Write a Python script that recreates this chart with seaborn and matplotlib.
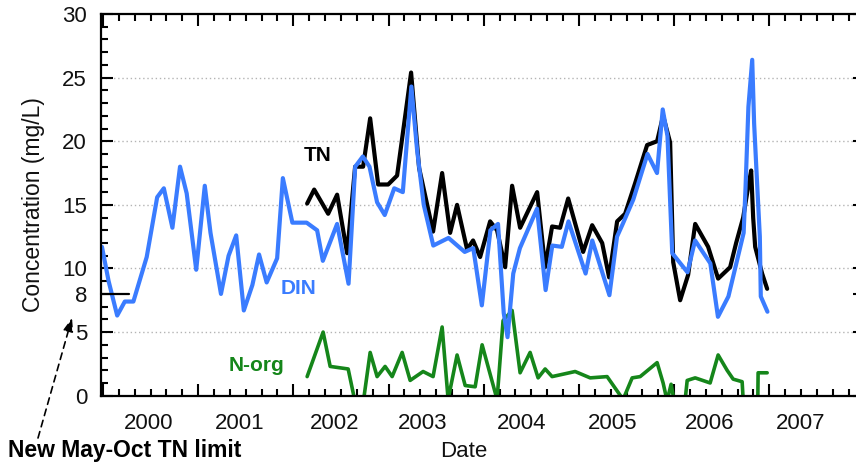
import matplotlib
matplotlib.use("Agg")
import matplotlib.pyplot as plt
from matplotlib.ticker import MultipleLocator, FixedLocator, NullFormatter
import pandas as pd
import seaborn as sns

# Sampling dates (decimal years) and concentrations in mg/L
din_year = [1999.99, 2000.06, 2000.15, 2000.23, 2000.32, 2000.46, 2000.57, 2000.64, 2000.73,
            2000.81, 2000.88, 2000.98, 2001.07, 2001.13, 2001.24, 2001.32, 2001.40, 2001.48,
            2001.57, 2001.64, 2001.72, 2001.83, 2001.89, 2001.99, 2002.14, 2002.25, 2002.31,
            2002.46, 2002.58, 2002.65, 2002.73, 2002.80, 2002.88, 2002.96, 2003.06, 2003.15,
            2003.24, 2003.30, 2003.37, 2003.47, 2003.63, 2003.80, 2003.89, 2003.98, 2004.07,
            2004.15, 2004.21, 2004.25, 2004.31, 2004.38, 2004.56, 2004.65, 2004.72, 2004.82,
            2004.89, 2005.07, 2005.14, 2005.32, 2005.40, 2005.46, 2005.57, 2005.72, 2005.82,
            2005.88, 2005.93, 2005.98, 2006.14, 2006.22, 2006.38, 2006.46, 2006.57, 2006.73,
            2006.75, 2006.78, 2006.82, 2006.84, 2006.87, 2006.90, 2006.91, 2006.98]
din_mgL = [11.7, 9.0, 6.3, 7.4, 7.4, 10.9, 15.6, 16.3, 13.2,
           18.0, 15.9, 9.9, 16.5, 12.8, 8.0, 11.0, 12.6, 6.7,
           8.7, 11.1, 8.9, 10.8, 17.1, 13.6, 13.6, 13.0, 10.6,
           13.5, 8.8, 18.0, 18.8, 18.0, 15.2, 14.2, 16.3, 16.0,
           24.3, 19.3, 15.0, 11.8, 12.4, 11.3, 11.6, 7.1, 13.0,
           13.5, 6.5, 4.6, 9.6, 11.6, 14.7, 8.3, 11.8, 11.7,
           13.7, 9.6, 12.2, 7.9, 12.5, 13.5, 15.4, 19.0, 17.5,
           22.5, 20.4, 11.2, 9.7, 12.2, 10.4, 6.2, 7.8, 12.8,
           16.4, 22.7, 26.4, 21.4, 16.9, 12.5, 7.8, 6.6]

tn_year = [2002.145, 2002.219, 2002.366, 2002.460, 2002.565, 2002.649, 2002.733, 2002.807,
           2002.891, 2002.996, 2003.090, 2003.237, 2003.321, 2003.468, 2003.563, 2003.647,
           2003.720, 2003.825, 2003.888, 2003.962, 2004.067, 2004.140, 2004.225, 2004.298,
           2004.382, 2004.561, 2004.645, 2004.718, 2004.802, 2004.887, 2005.044, 2005.139,
           2005.244, 2005.317, 2005.401, 2005.485, 2005.590, 2005.716, 2005.821, 2005.884,
           2005.958, 2005.990, 2006.063, 2006.147, 2006.221, 2006.357, 2006.462, 2006.588,
           2006.651, 2006.725, 2006.777, 2006.809, 2006.830, 2006.851, 2006.924, 2006.977]
tn_mgL = [15.1, 16.2, 14.3, 15.8, 11.2, 18.0, 18.0, 21.8,
          16.6, 16.6, 17.3, 25.4, 17.9, 12.9, 17.5, 12.8,
          15.0, 11.5, 12.2, 10.9, 13.7, 13.0, 10.1, 16.5,
          13.2, 16.0, 10.1, 13.3, 13.2, 15.5, 11.3, 13.4,
          12.0, 9.3, 13.7, 14.3, 16.7, 19.7, 20.0, 22.0,
          19.9, 10.5, 7.5, 9.5, 13.5, 11.7, 9.2, 10.1,
          12.0, 14.0, 16.4, 17.7, 14.0, 11.7, 9.6, 8.4]

norg_year = [2002.145, 2002.313, 2002.387, 2002.576, 2002.649, 2002.733, 2002.807, 2002.880,
             2002.964, 2003.038, 2003.143, 2003.227, 2003.363, 2003.468, 2003.563, 2003.626,
             2003.720, 2003.805, 2003.910, 2003.983, 2004.140, 2004.203, 2004.298, 2004.382,
             2004.487, 2004.571, 2004.645, 2004.718, 2004.960, 2005.118, 2005.296, 2005.464,
             2005.559, 2005.643, 2005.821, 2005.884, 2005.926, 2005.968, 2006.000, 2006.116,
             2006.137, 2006.221, 2006.378, 2006.462, 2006.556, 2006.620, 2006.714, 2006.746,
             2006.819, 2006.872, 2006.882, 2006.977]
norg_mgL = [1.5, 5.0, 2.3, 2.1, -0.5, -0.6, 3.4, 1.5,
            2.3, 1.5, 3.4, 1.2, 1.9, 1.5, 5.4, -0.3,
            3.2, 0.8, 0.7, 4.0, -0.3, 5.9, 6.7, 1.8,
            3.4, 1.4, 2.1, 1.5, 1.9, 1.4, 1.5, -0.3,
            1.4, 1.5, 2.6, 1.0, -0.4, 0.9, -0.4, -0.3,
            1.2, 1.4, 1.0, 3.2, 2.0, 1.3, 1.1, -3.0,
            -8.7, -4.5, 1.8, 1.8]

# Year names and where they sit along the date axis
year_labels = ["2000", "2001", "2002", "2003", "2004", "2005", "2006", "2007"]
year_label_pos = [2000.475, 2001.441, 2002.439, 2003.363, 2004.403, 2005.349, 2006.368, 2007.324]

tn_limit = 8
y_ticks = [0, 5, 8, 10, 15, 20, 25, 30]
grid_levels = [5, 10, 15, 20, 25]

BLUE = "#3a7cff"
GREEN = "#15861a"

sns.set_style("ticks")
plt.rcParams["font.family"] = ["Liberation Sans", "DejaVu Sans"]

din = pd.DataFrame({"Date": din_year, "Concentration": din_mgL})
tn = pd.DataFrame({"Date": tn_year, "Concentration": tn_mgL})
norg = pd.DataFrame({"Date": norg_year, "Concentration": norg_mgL})

fig = plt.figure(figsize=(8.56, 4.67), dpi=100)
ax = fig.add_axes([0.118, 0.1527, 0.892, 0.8173])

for lvl in grid_levels:
    ax.axhline(lvl, color="#b4b4b4", lw=1.0, ls=(0, (1, 2)), zorder=0)

sns.lineplot(data=norg, x="Date", y="Concentration", ax=ax, color=GREEN, lw=2.6,
             estimator=None, sort=False)
sns.lineplot(data=tn, x="Date", y="Concentration", ax=ax, color="black", lw=3.0,
             estimator=None, sort=False)
sns.lineplot(data=din, x="Date", y="Concentration", ax=ax, color=BLUE, lw=3.0,
             estimator=None, sort=False)

ax.set_xlim(1999.98, 2008.0)
ax.set_ylim(0, 30)

# TN limit marker on the y axis
ax.plot([1999.98, 2000.27], [tn_limit, tn_limit], color="black", lw=1.6, clip_on=False)

# x axis: year boundaries as major ticks, two-month minor ticks
ax.xaxis.set_major_locator(MultipleLocator(1))
ax.xaxis.set_major_formatter(NullFormatter())
minor_x = [yr + k / 6 for yr in range(1999, 2008) for k in range(1, 6)]
ax.xaxis.set_minor_locator(FixedLocator(minor_x))
ax.xaxis.set_minor_formatter(NullFormatter())

ax.set_yticks(y_ticks)
ax.yaxis.set_minor_locator(MultipleLocator(1))

ax.tick_params(which="both", direction="in", top=True, right=True, color="black",
               width=1.5, labelsize=16, labelcolor="#111111")
ax.tick_params(which="major", length=8.6)
ax.tick_params(which="minor", length=5)
ax.tick_params(axis="y", which="major", pad=10)

# year names without tick marks
sec = ax.secondary_xaxis("bottom")
sec.set_xticks(year_label_pos, labels=year_labels)
sec.tick_params(length=0, pad=12.5, labelsize=16, labelcolor="#111111")
sec.spines["bottom"].set_visible(False)

for sp in ax.spines.values():
    sp.set_color("black")
    sp.set_linewidth(1.6)

ax.set_xlabel("Date", fontsize=16, color="#111111")
ax.xaxis.set_label_coords(0.4755, -0.118)
ax.set_ylabel("Concentration (mg/L)", fontsize=16.5, color="#111111")
ax.yaxis.set_label_coords(-0.074, 0.5)

ax.text(2002.25, 18.9, "TN", fontsize=15, fontweight="bold", color="black",
        ha="center", va="center")
ax.text(2002.05, 8.4, "DIN", fontsize=15, fontweight="bold", color=BLUE,
        ha="center", va="center")
ax.text(2001.61, 2.4, "N-org", fontsize=15, fontweight="bold", color=GREEN,
        ha="center", va="center")

fig.text(0.0093, 0.036, "New May-Oct TN limit", fontsize=16.5, fontweight="bold",
         color="black", ha="left", va="center")
ax.annotate("", xy=(0.0841, 0.3191), xycoords="figure fraction",
            xytext=(0.0444, 0.0621), textcoords="figure fraction",
            arrowprops=dict(arrowstyle="-|>,head_length=0.8,head_width=0.3",
                            ls=(0, (4, 3)), lw=1.2, color="black",
                            shrinkA=0, shrinkB=0))

fig.savefig("out.png", dpi=100)
